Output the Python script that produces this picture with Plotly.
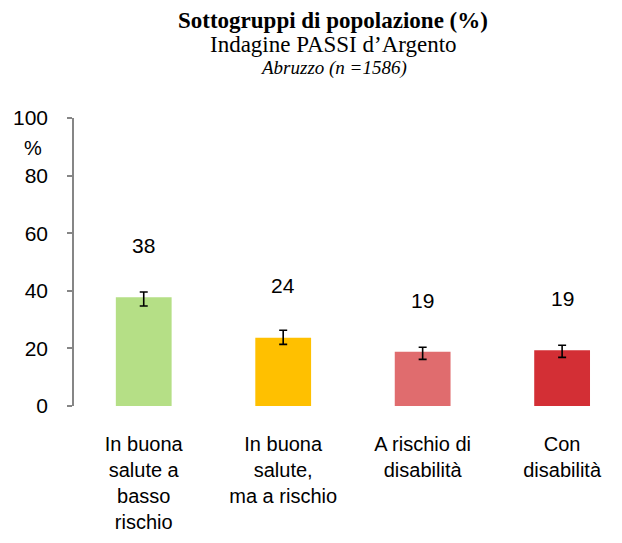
import plotly.graph_objects as go

categories = ["In buona<br>salute a<br>basso<br>rischio",
              "In buona<br>salute,<br>ma a rischio",
              "A rischio di<br>disabilità",
              "Con<br>disabilità"]
values = [37.8, 23.7, 18.8, 19.4]
err_plus = [1.8, 2.6, 1.6, 1.7]
err_minus = [3.1, 2.3, 2.6, 2.5]
value_labels = ["38", "24", "19", "19"]
colors = ["#B5DF86", "#FFC000", "#E06C6E", "#D32F35"]
yticks = [0, 20, 40, 60, 80, 100]
title_lines = ["<b>Sottogruppi di popolazione (%)</b>",
               "Indagine PASSI d’Argento",
               "<i>Abruzzo (n =1586)</i>"]

# page body has a small margin; compensate so that the figure lands on the 622x543 window
OFFY = 8
OFFX = 6
W, H = 622 - 2 * OFFX, 543 - 2 * OFFY
L, T = 72 - OFFX, 118 - OFFY
B = H - (406 - OFFY)
R = 0
ph = H - T - B


def py(pix):
    return (H - B - (pix - OFFY)) / ph


def px(pix):
    return (pix - OFFX - L) / (W - L - R)


x = list(range(len(categories)))
xmax = -0.5 + (622 - 72) / 141.0

SANS = "Liberation Sans, Arial"
SERIF = "Liberation Serif, Times New Roman"

fig = go.Figure()
fig.add_trace(go.Bar(
    x=x, y=values, marker=dict(color=colors, line=dict(width=0)),
    width=0.4,
    error_y=dict(type="data", symmetric=False, array=err_plus, arrayminus=err_minus,
                 color="#000000", thickness=1.6, width=4),
    hoverinfo="skip",
))

for xi, v, t in zip(x, values, value_labels):
    fig.add_annotation(x=xi, y=v + 18, text=t, showarrow=False, xref="x", yref="y",
                       yanchor="middle",
                       font=dict(family=SANS, size=21, color="#000000"))

fig.add_annotation(xref="paper", yref="paper", x=px(31), y=py(148), text="%",
                   showarrow=False, xanchor="center", yanchor="middle",
                   font=dict(family=SANS, size=20, color="#000000"))

title_y = [20, 45, 68]
title_sizes = [23, 23, 19]
for txt, yy, sz in zip(title_lines, title_y, title_sizes):
    fig.add_annotation(xref="paper", yref="paper", x=px(331), y=py(yy), text=txt,
                       showarrow=False, xanchor="center", yanchor="middle",
                       font=dict(family=SERIF, size=sz, color="#000000"))

fig.update_layout(
    width=W, height=H,
    margin=dict(l=L, r=R, t=T, b=B, autoexpand=False),
    paper_bgcolor="white", plot_bgcolor="white",
    showlegend=False,
    xaxis=dict(range=[-0.5, xmax], tickmode="array", tickvals=x, ticktext=categories,
               showline=False, showgrid=False, zeroline=False, ticks="",
               ticklabelstandoff=24, automargin=False,
               tickfont=dict(family=SANS, size=20, color="#000000")),
    yaxis=dict(range=[0, 100], tickmode="array", tickvals=yticks,
               showline=True, linecolor="#868686", linewidth=1.5,
               ticks="outside", ticklen=5, tickcolor="#868686", tickwidth=1.5,
               showgrid=False, zeroline=False, ticklabelstandoff=15, automargin=False,
               tickfont=dict(family=SANS, size=21, color="#000000")),
)

fig.write_html("out.html")
